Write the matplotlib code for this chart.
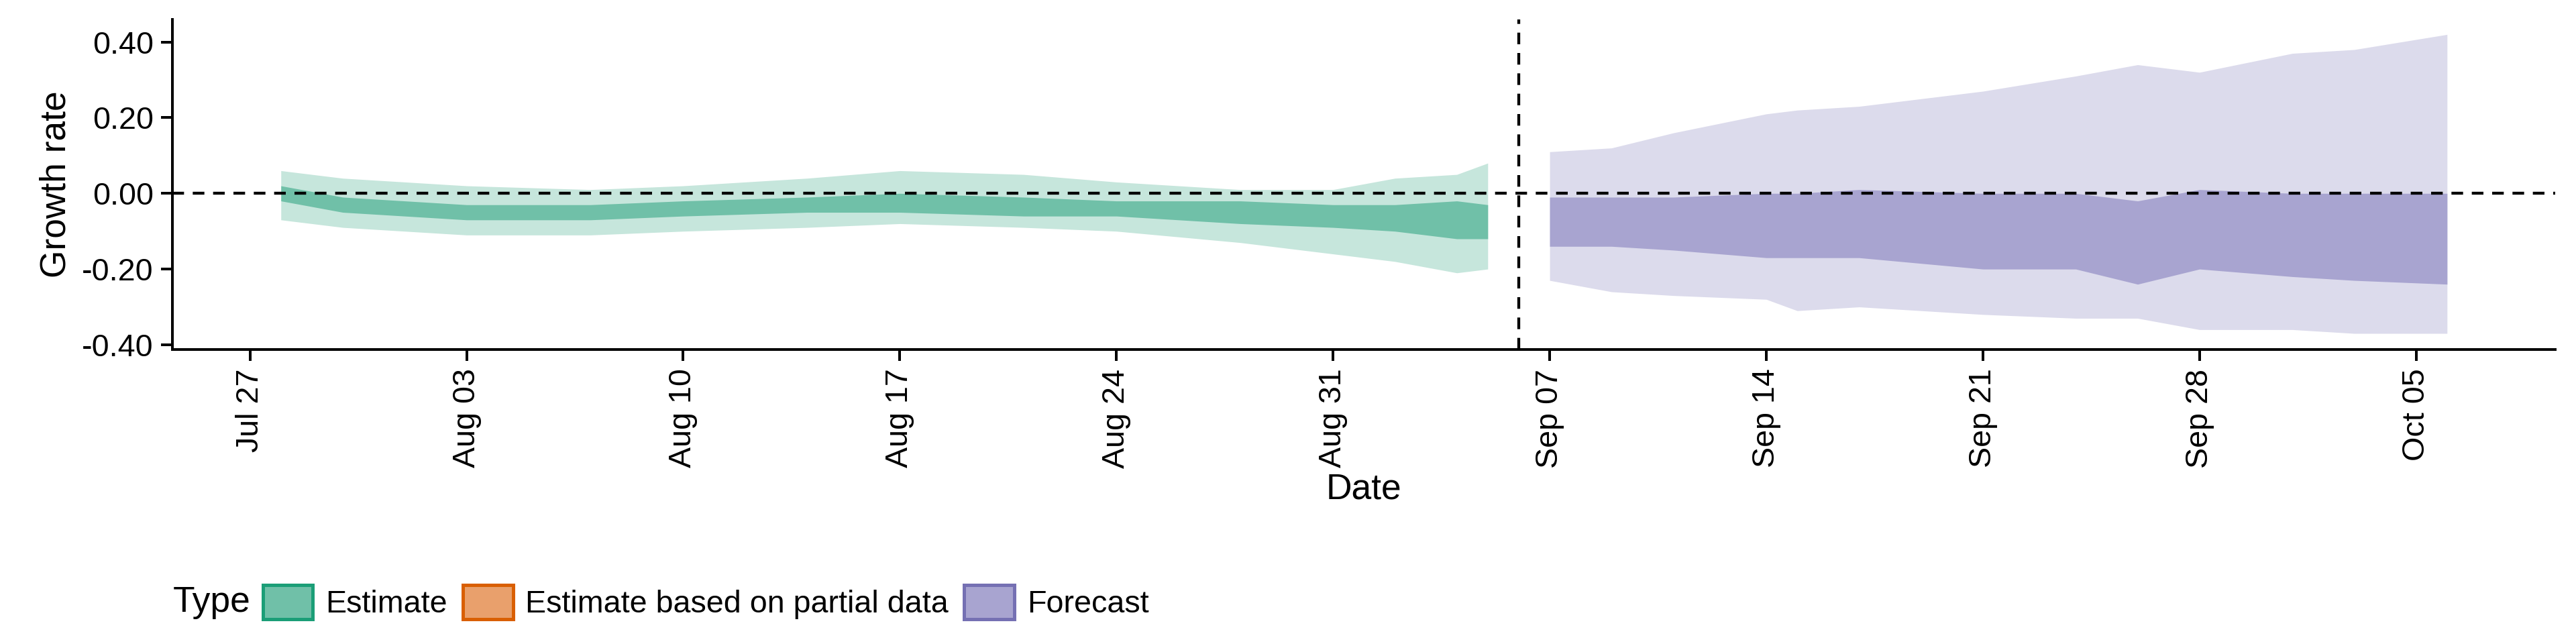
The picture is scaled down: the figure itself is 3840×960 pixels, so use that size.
import matplotlib
matplotlib.use("Agg")
import matplotlib.pyplot as plt
import matplotlib.patches as mpatches
import pandas as pd

plt.rcParams["font.family"] = ["Liberation Sans", "DejaVu Sans"]

est_dates = pd.to_datetime(["2020-07-28", "2020-07-30", "2020-08-01", "2020-08-03", "2020-08-07",
                            "2020-08-10", "2020-08-14", "2020-08-17", "2020-08-21", "2020-08-24",
                            "2020-08-28", "2020-08-31", "2020-09-02", "2020-09-04", "2020-09-05"])
est_hi90 = [0.06, 0.04, 0.03, 0.02, 0.01, 0.02, 0.04, 0.06, 0.05, 0.03, 0.01, 0.01, 0.04, 0.05, 0.08]
est_lo90 = [-0.07, -0.09, -0.10, -0.11, -0.11, -0.10, -0.09, -0.08, -0.09, -0.10, -0.13, -0.16, -0.18, -0.21, -0.20]
est_hi50 = [0.02, -0.01, -0.02, -0.03, -0.03, -0.02, -0.01, 0.00, -0.01, -0.02, -0.02, -0.03, -0.03, -0.02, -0.03]
est_lo50 = [-0.02, -0.05, -0.06, -0.07, -0.07, -0.06, -0.05, -0.05, -0.06, -0.06, -0.08, -0.09, -0.10, -0.12, -0.12]

fc_dates = pd.to_datetime(["2020-09-07", "2020-09-09", "2020-09-11", "2020-09-14", "2020-09-15",
                           "2020-09-17", "2020-09-21", "2020-09-24", "2020-09-26", "2020-09-28",
                           "2020-10-01", "2020-10-03", "2020-10-06"])
fc_hi90 = [0.11, 0.12, 0.16, 0.21, 0.22, 0.23, 0.27, 0.31, 0.34, 0.32, 0.37, 0.38, 0.42]
fc_lo90 = [-0.23, -0.26, -0.27, -0.28, -0.31, -0.30, -0.32, -0.33, -0.33, -0.36, -0.36, -0.37, -0.37]
fc_hi50 = [-0.01, -0.01, -0.01, 0.00, 0.00, 0.01, 0.00, 0.00, -0.02, 0.01, 0.00, 0.00, 0.00]
fc_lo50 = [-0.14, -0.14, -0.15, -0.17, -0.17, -0.17, -0.20, -0.20, -0.24, -0.20, -0.22, -0.23, -0.24]

fig = plt.figure(figsize=(16, 4), dpi=240)
ax = fig.add_axes([0.067, 0.457, 0.925, 0.513])

ax.fill_between(est_dates, est_lo90, est_hi90, color="#c6e6dc", lw=0)
ax.fill_between(est_dates, est_lo50, est_hi50, color="#70c0a8", lw=0)
ax.fill_between(fc_dates, fc_lo90, fc_hi90, color="#dcdbec", lw=0)
ax.fill_between(fc_dates, fc_lo50, fc_hi50, color="#a8a4d0", lw=0)

ax.axhline(0, color="black", ls=(0, (4, 3)), lw=1.3)
ax.axvline(pd.Timestamp("2020-09-06"), color="black", ls=(0, (4, 3)), lw=1.3)

ax.set_xlim(pd.Timestamp("2020-07-24 12:00"), pd.Timestamp("2020-10-09 12:00"))
ax.set_ylim(-0.413, 0.46)
ax.set_yticks([-0.4, -0.2, 0, 0.2, 0.4])
ax.set_yticklabels(["-0.40", "-0.20", "0.00", "0.20", "0.40"])
ticks = pd.date_range("2020-07-27", "2020-10-05", freq="7D")
ax.set_xticks(ticks)
ax.set_xticklabels([t.strftime("%b %d") for t in ticks], rotation=90)
ax.tick_params(labelsize=14, colors="black", width=1.2, length=5)
ax.set_xlabel("Date", fontsize=16, labelpad=2)
ax.set_ylabel("Growth rate", fontsize=16, labelpad=4)
for s in ["top", "right"]:
    ax.spines[s].set_visible(False)
for s in ["left", "bottom"]:
    ax.spines[s].set_linewidth(1.2)

handles = [mpatches.Patch(facecolor="#70c0a8", edgecolor="#1B9E77", lw=1.5, label="Estimate"),
           mpatches.Patch(facecolor="#e9a06c", edgecolor="#D95F02", lw=1.5, label="Estimate based on partial data"),
           mpatches.Patch(facecolor="#a8a4d0", edgecolor="#7570B3", lw=1.5, label="Forecast")]
fig.text(0.067, 0.065, "Type", fontsize=16, va="center")
fig.legend(handles=handles, loc="center left", bbox_to_anchor=(0.102, 0.065), ncol=3, frameon=False,
           fontsize=14, handlelength=1.6, handleheight=1.3, columnspacing=0.5, handletextpad=0.4,
           borderaxespad=0, borderpad=0)

fig.savefig("out.png", dpi=240)
